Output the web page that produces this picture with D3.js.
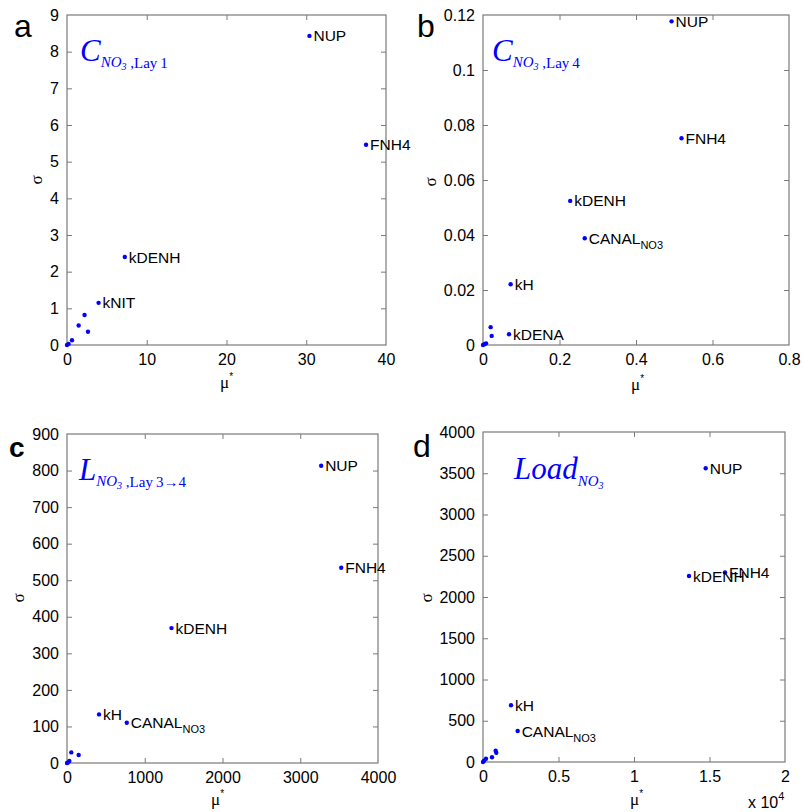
<!DOCTYPE html>
<html><head><meta charset="utf-8">
<script src="https://cdn.jsdelivr.net/npm/d3@7"></script>
<style>body{margin:0;background:#fff}svg{display:block}</style>
</head><body>
<script>
// ---------- data ----------
const aLabels = ["NUP","FNH4","kDENH","kNIT","","","","","",""];
const aMu     = [30.4, 37.5, 7.25, 3.96, 1.46, 2.2, 2.63, 0.63, 0.2, 0];
const aSigma  = [8.43, 5.46, 2.40, 1.15, 0.53, 0.82, 0.36, 0.13, 0.03, 0];

const bLabels = ["NUP","FNH4","kDENH","CANAL_NO3","kH","kDENA","","","","",""];
const bMu     = [0.493, 0.519, 0.228, 0.266, 0.0723, 0.068, 0.020, 0.0227, 0.008, 0.004, 0];
const bSigma  = [0.1177, 0.0752, 0.0524, 0.0388, 0.0221, 0.0039, 0.0065, 0.0033, 0.0006, 0.0003, 0];

const cLabels = ["NUP","FNH4","kDENH","kH","CANAL_NO3","","","","",""];
const cMu     = [3269, 3527, 1344, 412, 769, 55, 150, 30, 9, 0];
const cSigma  = [813, 534, 369, 133, 110, 29, 22, 5.5, 1, 0];

const dLabels = ["NUP","FNH4","kDENH","kH","CANAL_NO3","","","","","",""];
const dMu     = [14748, 16026, 13642, 1854, 2296, 838, 880, 596, 199, 66, 0];
const dSigma  = [3560, 2299, 2255, 687, 376, 137, 113, 57, 40, 16, 0];

const aXTicks = [0,10,20,30,40], aXTickLabels = ["0","10","20","30","40"];
const aYTicks = [0,1,2,3,4,5,6,7,8,9], aYTickLabels = ["0","1","2","3","4","5","6","7","8","9"];
const bXTicks = [0,0.2,0.4,0.6,0.8], bXTickLabels = ["0","0.2","0.4","0.6","0.8"];
const bYTicks = [0,0.02,0.04,0.06,0.08,0.1,0.12], bYTickLabels = ["0","0.02","0.04","0.06","0.08","0.1","0.12"];
const cXTicks = [0,1000,2000,3000,4000], cXTickLabels = ["0","1000","2000","3000","4000"];
const cYTicks = [0,100,200,300,400,500,600,700,800,900], cYTickLabels = ["0","100","200","300","400","500","600","700","800","900"];
const dXTicks = [0,5000,10000,15000,20000], dXTickLabels = ["0","0.5","1","1.5","2"];
const dYTicks = [0,500,1000,1500,2000,2500,3000,3500,4000], dYTickLabels = ["0","500","1000","1500","2000","2500","3000","3500","4000"];

const panelLetters = ["a","b","c","d"];

// ---------- drawing ----------
const W = 803, H = 812;
const svg = d3.select("body").append("svg").attr("width", W).attr("height", H);
const SANS = "'Liberation Sans', Arial, Helvetica, sans-serif";
const SERIF = "'Liberation Serif', 'Times New Roman', serif";
const BLUE = "#0000ff";
const AXC = "#7a7a7a";

const panels = [
  {letter: panelLetters[0], L:67, R:386, T:15, B:345, xd:[0,40], yd:[0,9],
   xt:aXTicks, xl:aXTickLabels, yt:aYTicks, yl:aYTickLabels,
   mu:aMu, sg:aSigma, lab:aLabels, letterPos:[14,37], letterSize:32, letterBold:false,
   sigPos:[42,180], muPos:[220,388], titlePos:[80,61],
   title:[{t:"C",it:true,s:31},{t:"NO",it:true,s:15,dy:6},{t:"3",it:true,s:10,dy:3},{t:" ,Lay\u20091",s:15,dy:-2}]},
  {letter: panelLetters[1], L:483, R:789, T:15, B:345, xd:[0,0.8], yd:[0,0.12],
   xt:bXTicks, xl:bXTickLabels, yt:bYTicks, yl:bYTickLabels,
   mu:bMu, sg:bSigma, lab:bLabels, letterPos:[417,37], letterSize:32, letterBold:false,
   sigPos:[436,182], muPos:[631,390], titlePos:[492,61],
   title:[{t:"C",it:true,s:31},{t:"NO",it:true,s:15,dy:6},{t:"3",it:true,s:10,dy:3},{t:" ,Lay\u20094",s:15,dy:-2}]},
  {letter: panelLetters[2], L:67, R:378, T:434, B:763, xd:[0,4000], yd:[0,900],
   xt:cXTicks, xl:cXTickLabels, yt:cYTicks, yl:cYTickLabels,
   mu:cMu, sg:cSigma, lab:cLabels, letterPos:[9,457], letterSize:28, letterBold:true,
   sigPos:[24,598], muPos:[211,805], titlePos:[79,480],
   title:[{t:"L",it:true,s:31},{t:"NO",it:true,s:15,dy:6},{t:"3",it:true,s:10,dy:3},{t:" ,Lay\u20093\u2192" + "4",s:15,dy:-2}]},
  {letter: panelLetters[3], L:483, R:785, T:432, B:762, xd:[0,20000], yd:[0,4000],
   xt:dXTicks, xl:dXTickLabels, yt:dYTicks, yl:dYTickLabels,
   mu:dMu, sg:dSigma, lab:dLabels, letterPos:[413,457], letterSize:32, letterBold:false,
   sigPos:[432,598], muPos:[630,805], titlePos:[514,479], exp:true,
   title:[{t:"Load",it:true,s:31},{t:"NO",it:true,s:15,dy:7},{t:"3",it:true,s:10,dy:3}]}
];

panels.forEach(p => {
  const g = svg.append("g");
  const x = d3.scaleLinear().domain(p.xd).range([p.L, p.R]);
  const y = d3.scaleLinear().domain(p.yd).range([p.B, p.T]);
  const tl = 5;

  // box
  g.append("rect").attr("x", p.L).attr("y", p.T).attr("width", p.R - p.L).attr("height", p.B - p.T)
    .attr("fill", "none").attr("stroke", AXC).attr("stroke-width", 1.2);

  // axes with inward ticks
  const fmtX = d => p.xl[p.xt.indexOf(d)];
  const fmtY = d => p.yl[p.yt.indexOf(d)];
  const xAx = g.append("g").attr("transform", `translate(0,${p.B})`)
    .call(d3.axisBottom(x).tickValues(p.xt).tickFormat(fmtX).tickSizeInner(-tl).tickSizeOuter(0).tickPadding(9));
  const xAxTop = g.append("g").attr("transform", `translate(0,${p.T})`)
    .call(d3.axisTop(x).tickValues(p.xt).tickFormat("").tickSizeInner(-tl).tickSizeOuter(0));
  const yAx = g.append("g").attr("transform", `translate(${p.L},0)`)
    .call(d3.axisLeft(y).tickValues(p.yt).tickFormat(fmtY).tickSizeInner(-tl).tickSizeOuter(0).tickPadding(8));
  const yAxR = g.append("g").attr("transform", `translate(${p.R},0)`)
    .call(d3.axisRight(y).tickValues(p.yt).tickFormat("").tickSizeInner(-tl).tickSizeOuter(0));
  [xAx, xAxTop, yAx, yAxR].forEach(a => {
    a.select(".domain").remove();
    a.selectAll(".tick line").attr("stroke", AXC);
    a.selectAll(".tick text").attr("fill", "#000").style("font-family", SANS).style("font-size", "16px");
  });
  [xAx, xAxTop].forEach(a => a.selectAll(".tick").filter(d => d === p.xd[0] || d === p.xd[1]).select("line").remove());
  [yAx, yAxR].forEach(a => a.selectAll(".tick").filter(d => d === p.yd[0] || d === p.yd[1]).select("line").remove());

  // axis labels
  g.append("text").attr("transform", `translate(${p.sigPos[0]},${p.sigPos[1]}) rotate(-90)`)
    .attr("text-anchor", "middle").style("font-family", SERIF).style("font-size", "17px").text("σ");
  const mt = g.append("text").attr("x", p.muPos[0]).attr("y", p.muPos[1])
    .style("font-family", SERIF).style("font-size", "17px");
  mt.append("tspan").text("μ");
  mt.append("tspan").attr("dy", -8).style("font-size", "10px").style("font-family", SANS).text("*");

  if (p.exp) {
    const et = g.append("text").attr("x", 748).attr("y", 808).style("font-family", SANS).style("font-size", "16px");
    et.append("tspan").text("x 10");
    et.append("tspan").attr("dy", -8).style("font-size", "11px").text("4");
  }

  // panel letter
  g.append("text").attr("x", p.letterPos[0]).attr("y", p.letterPos[1])
    .style("font-family", SANS).style("font-size", p.letterSize + "px")
    .style("font-weight", p.letterBold ? "bold" : "normal").text(p.letter);

  // title
  const tt = g.append("text").attr("x", p.titlePos[0]).attr("y", p.titlePos[1])
    .attr("fill", BLUE).style("font-family", SERIF);
  p.title.forEach(part => {
    const ts = tt.append("tspan").text(part.t).style("font-size", part.s + "px");
    if (part.it) ts.style("font-style", "italic");
    if (part.dy) ts.attr("dy", part.dy);
  });

  // points
  const data = p.mu.map((m, i) => ({m, s: p.sg[i], l: p.lab[i]}));
  g.selectAll("circle").data(data).join("circle")
    .attr("cx", d => x(d.m)).attr("cy", d => y(d.s)).attr("r", 2.2).attr("fill", BLUE);

  // labels
  data.filter(d => d.l).forEach(d => {
    const t = g.append("text").attr("x", x(d.m) + 4).attr("y", y(d.s)).attr("dy", "0.36em")
      .style("font-family", SANS).style("font-size", "15.5px").attr("fill", "#000");
    const parts = d.l.split("_");
    t.append("tspan").text(parts[0]);
    if (parts[1]) t.append("tspan").attr("dy", 5).style("font-size", "11px").text(parts[1]);
  });
});
</script>
</body></html>
